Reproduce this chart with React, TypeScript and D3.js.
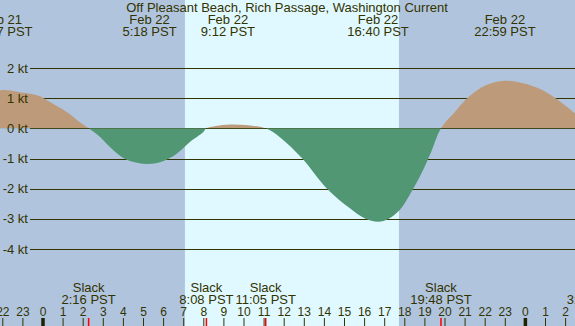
import React from 'react';
import * as d3 from 'd3';

// hours are relative to Feb 22 00:00 PST
const curveHours = [-2.14, -1.9, -1.14, -0.25, 0.35, 1.2, 1.8, 2.27, 2.84, 3.5, 4.16, 5.2, 6.0, 6.65, 7.31, 7.98, 8.13, 8.6, 9.3, 10.2, 11.08, 11.8, 12.9, 14.13, 15.27, 16.0, 16.67, 17.2, 17.76, 18.16, 18.75, 19.3, 19.8, 20.5, 21.1, 22.0, 22.98, 24.5, 25.5, 26.47];
const curveKnots = [1.26, 1.27, 1.2, 1.09, 0.87, 0.53, 0.22, 0, -0.29, -0.73, -1.04, -1.18, -1.08, -0.84, -0.45, -0.12, 0, 0.08, 0.13, 0.1, 0, -0.3, -1.0, -2.0, -2.65, -2.98, -3.1, -3.0, -2.7, -2.3, -1.6, -0.8, 0, 0.55, 1.0, 1.42, 1.58, 1.37, 1.0, 0.5];

const peakHours = [-2.05, 5.3, 9.2, 16.67, 22.98];
const peakDates = ['Feb 21', 'Feb 22', 'Feb 22', 'Feb 22', 'Feb 22'];
const peakTimes = ['21:57 PST', '5:18 PST', '9:12 PST', '16:40 PST', '22:59 PST'];

const slackHours = [2.27, 8.13, 11.08, 19.8, 27.4];
const slackTimes = ['2:16 PST', '8:08 PST', '11:05 PST', '19:48 PST', '3:24 PST'];

const sunrise = 7.06;
const sunset = 17.71;

const ktLevels = [2, 1, 0, -1, -2, -3, -4];
const hourTicks = d3.range(-2, 27);

const W = 575;
const H = 326;
const TEXT = '#333300';
const FONT = 'Liberation Sans, Arial, sans-serif';

export default function App() {
  const x = d3.scaleLinear().domain([0, 1]).range([43, 63.1]);
  const y = d3.scaleLinear().domain([-4, 2]).range([249, 68]);
  const pts = curveHours.map((h, i) => ({ h, v: curveKnots[i] }));

  const area = d3.area<{ h: number; v: number }>()
    .x(d => x(d.h))
    .y0(y(0))
    .y1(d => y(d.v))
    .curve(d3.curveCatmullRom.alpha(0.5));
  const path = area(pts) || '';

  return (
    <svg width={W} height={H} style={{ position: 'absolute', left: 0, top: 0, display: 'block' }}
      fontFamily={FONT}>
      <defs>
        <clipPath id="above"><rect x={0} y={0} width={W} height={y(0)} /></clipPath>
        <clipPath id="below"><rect x={0} y={y(0)} width={W} height={H - y(0)} /></clipPath>
      </defs>
      <rect x={0} y={0} width={W} height={H} fill="#b0c4de" />
      <rect x={x(sunrise)} y={0} width={x(sunset) - x(sunrise)} height={H} fill="#e0f8ff" />

      {ktLevels.map(k => (
        <line key={k} x1={30} x2={W} y1={Math.round(y(k)) + 0.5} y2={Math.round(y(k)) + 0.5}
          stroke={TEXT} strokeWidth={1} />
      ))}

      <path d={path} fill="#bd9b7a" clipPath="url(#above)" />
      <path d={path} fill="#529774" clipPath="url(#below)" />

      {ktLevels.map(k => (
        <text key={k} x={28} y={y(k) + 4.5} textAnchor="end" fontSize={13} fill={TEXT}>{`${k} kt`}</text>
      ))}

      <text x={287} y={12} textAnchor="middle" fontSize={13} fill={TEXT}>
        Off Pleasant Beach, Rich Passage, Washington Current
      </text>

      {peakHours.map((h, i) => (
        <g key={i}>
          <text x={x(h)} y={24} textAnchor="middle" fontSize={13} fill={TEXT}>{peakDates[i]}</text>
          <text x={x(h)} y={36} textAnchor="middle" fontSize={13} fill={TEXT}>{peakTimes[i]}</text>
        </g>
      ))}

      {slackHours.map((h, i) => (
        <g key={i}>
          <text x={x(h)} y={292} textAnchor="middle" fontSize={13} fill={TEXT}>Slack</text>
          <text x={x(h)} y={304} textAnchor="middle" fontSize={13} fill={TEXT}>{slackTimes[i]}</text>
          <line x1={x(h)} x2={x(h)} y1={318} y2={H} stroke="red" strokeWidth={1.5} />
        </g>
      ))}

      {hourTicks.map(h => {
        const midnight = ((h % 24) + 24) % 24 === 0;
        return (
          <g key={h}>
            <text x={x(h)} y={316} textAnchor="middle" fontSize={12} fill={TEXT}>{((h % 24) + 24) % 24}</text>
            <line x1={x(h)} x2={x(h)} y1={318} y2={H} stroke={midnight ? '#222200' : TEXT}
              strokeWidth={midnight ? 3.5 : 1} />
          </g>
        );
      })}
    </svg>
  );
}
